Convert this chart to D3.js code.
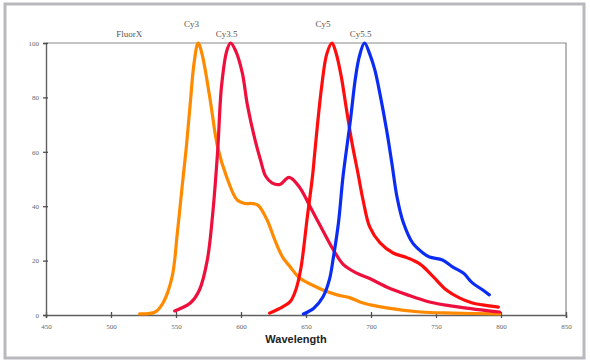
<!DOCTYPE html>
<html>
<head>
<meta charset="utf-8">
<script src="https://cdn.jsdelivr.net/npm/d3@7"></script>
<style>
  body { margin: 0; background: #fff; }
  svg { display: block; }
</style>
</head>
<body>
<div id="chart"></div>
<script>
// emission spectra: [wavelength nm, normalised intensity]
var cy3 = [[522,0.4],[534,1.1],[540,4.4],[547,14],[551,30],[555,48.5],[558,62],[561,78],[564,93],[567,100],
  [570,96],[576,80],[582,61.8],[589,50.7],[597,42.3],[603,41],[608,41],[613,40.4],[620,35],[626,27.6],
  [632,21.3],[638,17.6],[645,13.6],[655,11],[663,9.2],[674,7.4],[684,6.3],[694,4.4],[712,2.6],[738,1.1],[763,0.7],[799,0.4]];
var cy35 = [[549,1.5],[561,4.4],[568,9.2],[574,20],[578,36],[582,60],[585,84],[589,97],[592,100],
  [596,97],[601,89],[605,77],[611,64],[615,57],[619,51],[624,48.5],[630,48],[637,50.6],[645,47],
  [653,40],[663,31],[671,24],[679,18.4],[689,15.4],[699,13.4],[712,10.3],[728,7.4],[745,4.8],[768,2.9],[799,1.1]];
var cy5 = [[622,0.7],[632,3],[638,5],[642,9],[646,17],[651,36],[655,51],[657,61],[662,83.8],[666,96],[670,100],
  [673,96.5],[677,88],[681,76],[685,64.3],[690,52],[694,42],[699,32.4],[707,26.5],[717,22.8],[728,21],[738,18.6],
  [748,14],[758,9.2],[768,6.3],[778,4.4],[786,3.7],[798,2.9]];
var cy55 = [[648,0.4],[656,2.5],[663,6.6],[668,13],[671,21],[675,34],[678.5,51],[684,71],[688,87],[691,95],[695,100],
  [699,96],[703,90],[707,81],[712,68],[716,56],[720,43.4],[725,33.8],[732,26.5],[740,22.8],[745,21.3],[755,20.2],[763,17.6],
  [771,15.4],[778,11.8],[786,9.2],[791,7.4]];

var seriesNames = ['Cy3', 'Cy3.5', 'Cy5', 'Cy5.5'];
var seriesData = [cy3, cy35, cy5, cy55];
var seriesColors = ['#ff8a00', '#ee0f3c', '#ff0d0d', '#0a2cf5'];

var xTicks = [450, 500, 550, 600, 650, 700, 750, 800, 850];
var yTicks = [0, 20, 40, 60, 80, 100];

// dye labels above the plot: name, wavelength it sits over, row
var dyeLabels = [['FluorX', 514, 1], ['Cy3', 562, 0], ['Cy3.5', 589, 1], ['Cy5', 663, 0], ['Cy5.5', 692, 1]];

var W = 590, H = 361;
var margin = { top: 43, right: 24, bottom: 46, left: 46 };
var width = W - margin.left - margin.right;
var height = H - margin.top - margin.bottom;

var svg = d3.select('#chart').append('svg')
  .attr('width', W)
  .attr('height', H);

// outer frame
svg.append('rect')
  .attr('x', 5).attr('y', 4)
  .attr('width', 579).attr('height', 354)
  .attr('fill', 'none')
  .attr('stroke', '#b9b9bd')
  .attr('stroke-width', 3);

var g = svg.append('g')
  .attr('transform', 'translate(' + margin.left + ',' + margin.top + ')');

var x = d3.scaleLinear().domain([450, 850]).range([0, width]);
var y = d3.scaleLinear().domain([0, 100]).range([height, 0]);

// top + right border of plot area
g.append('path')
  .attr('d', 'M0,0H' + width + 'V' + height)
  .attr('fill', 'none')
  .attr('stroke', '#8a8a8a')
  .attr('stroke-width', 1.2);

var xAxis = g.append('g')
  .attr('transform', 'translate(0,' + height + ')')
  .call(d3.axisBottom(x).tickValues(xTicks).tickSize(3).tickPadding(6));
xAxis.selectAll('.tick line').attr('y1', -3);

var yAxis = g.append('g')
  .call(d3.axisLeft(y).tickValues(yTicks).tickSize(3).tickPadding(4));
yAxis.selectAll('.tick line').attr('x1', 2);

g.selectAll('.domain')
  .attr('stroke', '#606060')
  .attr('stroke-width', 1.4);
g.selectAll('.tick line')
  .attr('stroke', '#505050')
  .attr('stroke-width', 1.3);
g.selectAll('.tick text')
  .attr('font-family', '"Liberation Serif", "DejaVu Serif", serif')
  .attr('font-size', 7)
  .attr('fill', '#666');

var line = d3.line()
  .x(function (d) { return x(d[0]); })
  .y(function (d) { return y(d[1]); })
  .curve(d3.curveCatmullRom.alpha(0.5));

g.selectAll('path.spectrum')
  .data(seriesData)
  .enter().append('path')
  .attr('class', 'spectrum')
  .attr('d', line)
  .attr('fill', 'none')
  .attr('stroke', function (d, i) { return seriesColors[i]; })
  .attr('stroke-width', 3.2)
  .attr('stroke-linejoin', 'round')
  .attr('stroke-linecap', 'round');

g.selectAll('text.dye')
  .data(dyeLabels)
  .enter().append('text')
  .attr('class', 'dye')
  .attr('x', function (d) { return x(d[1]); })
  .attr('y', function (d) { return d[2] ? -6 : -16; })
  .attr('text-anchor', 'middle')
  .attr('font-family', '"Liberation Serif", "DejaVu Serif", serif')
  .attr('font-size', 9)
  .attr('fill', '#555')
  .text(function (d) { return d[0]; });

svg.append('text')
  .attr('x', 296)
  .attr('y', 343)
  .attr('text-anchor', 'middle')
  .attr('font-family', '"Liberation Sans", Arial, sans-serif')
  .attr('font-weight', 'bold')
  .attr('font-size', 11)
  .attr('fill', '#222')
  .text('Wavelength');
</script>
</body>
</html>
